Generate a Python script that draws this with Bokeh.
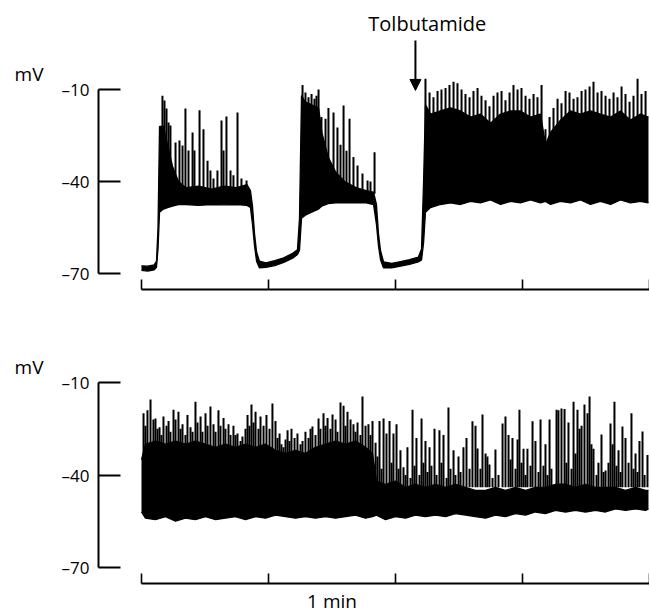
from bokeh.plotting import figure
from bokeh.layouts import column
from bokeh.models import (Range1d, LinearAxis, FixedTicker, Label, Arrow, NormalHead,
                          CustomLabelingPolicy)
from bokeh.embed import file_html
from bokeh.resources import INLINE

# ---------------- data (time in minutes, membrane potential in mV) ----------------
Y_TICKS = [-70, -40, -10]
Y_TICK_LABELS = {-70: "\u201370", -40: "\u201340", -10: "\u201310"}
X_TICKS = [0, 1, 2, 3, 4]
UNIT_Y = "mV"
UNIT_X = "1 min"
DRUG = "Tolbutamide"

# top trace: lower edge and dense-band upper edge of the recorded trace
TOP_T = [0.000, 0.050, 0.100, 0.118, 0.130, 0.142, 0.173, 0.205, 0.244, 0.291,
         0.350, 0.450, 0.550, 0.650, 0.750, 0.830, 0.858, 0.874, 0.890, 0.906,
         0.929, 0.980, 1.050, 1.120, 1.190, 1.228, 1.244, 1.260, 1.290, 1.340,
         1.394, 1.420, 1.470, 1.530, 1.600, 1.690, 1.770, 1.827, 1.850, 1.866,
         1.882, 1.906, 1.970, 2.040, 2.110, 2.180, 2.205, 2.221, 2.236, 2.276,
         2.354, 2.433, 2.512, 2.591, 2.669, 2.748, 2.827, 2.906, 2.984, 3.063,
         3.142, 3.181, 3.220, 3.299, 3.378, 3.457, 3.535, 3.614, 3.693, 3.772,
         3.850, 3.929, 3.992]
TOP_LOW = [-69.0, -69.2, -68.8, -68.0, -62.0, -50.0, -49.0, -48.5, -48.0, -47.5,
           -47.5, -47.8, -47.5, -47.6, -47.5, -47.8, -48.5, -54.0, -61.0, -66.0,
           -68.2, -68.0, -67.4, -66.4, -65.0, -63.8, -62.5, -52.0, -51.0, -50.0,
           -49.0, -48.0, -47.2, -47.0, -47.0, -47.0, -47.0, -47.5, -54.0, -61.0,
           -65.5, -68.2, -68.2, -67.6, -67.0, -66.2, -65.6, -60.0, -50.0, -48.5,
           -47.5, -47.0, -47.5, -46.5, -47.0, -46.0, -47.5, -46.5, -47.0, -46.0,
           -47.0, -46.5, -47.5, -46.5, -47.0, -46.0, -47.5, -46.5, -47.5, -46.0,
           -47.0, -46.5, -47.0]
TOP_HIGH = [-67.5, -67.6, -67.2, -66.0, -55.0, -22.0, -22.0, -28.0, -35.0, -40.0,
            -42.0, -41.5, -42.5, -41.5, -42.0, -41.0, -43.0, -48.0, -57.0, -63.0,
            -66.0, -66.5, -65.8, -64.9, -63.4, -62.3, -52.0, -12.0, -14.0, -15.0,
            -16.0, -24.0, -32.0, -37.0, -40.0, -42.0, -43.0, -43.5, -47.5, -57.0,
            -62.5, -66.2, -66.7, -66.1, -65.5, -64.7, -62.0, -40.0, -15.0, -18.0,
            -17.0, -16.0, -17.0, -19.0, -18.0, -21.0, -18.0, -17.0, -17.0, -19.0,
            -18.0, -28.0, -24.0, -20.0, -17.0, -18.0, -17.0, -18.0, -19.0, -17.0,
            -20.0, -18.0, -19.0]

# top trace: spike peaks
BURST1_T = [0.165, 0.181, 0.197, 0.213, 0.228, 0.268, 0.299, 0.323, 0.346, 0.370,
            0.402, 0.417, 0.457, 0.488, 0.520, 0.543, 0.567, 0.598, 0.630, 0.646,
            0.669, 0.701, 0.724, 0.756, 0.787, 0.827]
BURST1_V = [-12.0, -13.6, -16.2, -20.8, -21.7, -27.3, -26.6, -28.3, -16.2, -29.9,
            -24.0, -29.9, -16.8, -23.0, -33.2, -36.4, -39.0, -36.4, -20.1, -29.9,
            -18.8, -36.4, -38.0, -17.5, -39.0, -39.7]
BURST2_T = [1.268, 1.291, 1.315, 1.339, 1.362, 1.378, 1.394, 1.417, 1.449, 1.472,
            1.512, 1.543, 1.567, 1.591, 1.614, 1.638, 1.669, 1.701, 1.740, 1.780,
            1.803, 1.835]
BURST2_V = [-8.5, -11.0, -12.5, -11.5, -13.0, -12.0, -10.0, -19.0, -19.5, -16.0,
            -17.5, -22.4, -28.0, -15.2, -30.0, -19.5, -32.0, -34.8, -37.4, -39.7,
            -40.0, -30.5]
TOLB_T = [2.236, 2.268, 2.299, 2.331, 2.362, 2.394, 2.425, 2.457, 2.488, 2.520,
          2.551, 2.583, 2.614, 2.646, 2.677, 2.709, 2.740, 2.772, 2.803, 2.835,
          2.866, 2.898, 2.929, 2.961, 2.992, 3.024, 3.055, 3.087, 3.118, 3.150,
          3.181, 3.213, 3.244, 3.276, 3.307, 3.339, 3.370, 3.402, 3.433, 3.465,
          3.496, 3.528, 3.559, 3.591, 3.622, 3.654, 3.685, 3.717, 3.748, 3.780,
          3.811, 3.843, 3.874, 3.906, 3.937, 3.969]
TOLB_V = [-6.5, -11.0, -12.5, -10.5, -10.0, -9.5, -8.5, -7.5, -8.0, -10.0,
          -11.5, -12.5, -10.5, -9.5, -12.0, -13.5, -15.5, -12.0, -11.0, -10.5,
          -13.5, -11.0, -8.5, -10.0, -9.5, -12.0, -13.0, -11.5, -12.5, -8.5,
          -23.0, -19.0, -16.0, -13.0, -14.5, -10.5, -11.0, -13.0, -12.5, -10.5,
          -10.0, -9.0, -7.5, -11.0, -10.5, -12.0, -13.0, -11.0, -12.5, -9.0,
          -11.5, -14.0, -12.0, -6.5, -11.5, -10.5]

# bottom trace: lower edge and dense-band upper edge
BOT_T = [0.000, 0.031, 0.110, 0.189, 0.268, 0.346, 0.425, 0.504, 0.583, 0.661,
         0.740, 0.819, 0.898, 0.976, 1.055, 1.134, 1.213, 1.291, 1.370, 1.449,
         1.528, 1.606, 1.685, 1.764, 1.819, 1.850, 1.921, 2.000, 2.079, 2.157,
         2.236, 2.315, 2.394, 2.472, 2.551, 2.630, 2.709, 2.787, 2.866, 2.945,
         3.024, 3.102, 3.181, 3.260, 3.339, 3.417, 3.496, 3.575, 3.654, 3.732,
         3.811, 3.890, 3.969, 3.992]
BOT_LOW = [-52.0, -54.0, -54.5, -53.5, -55.0, -54.0, -54.5, -53.5, -54.5, -54.0,
           -53.5, -54.5, -53.5, -54.0, -53.0, -53.5, -54.0, -53.5, -54.0, -53.5,
           -54.0, -53.5, -53.0, -54.0, -53.5, -53.0, -54.5, -53.5, -54.0, -53.0,
           -53.5, -53.0, -53.5, -52.5, -53.0, -53.5, -54.0, -53.0, -53.5, -52.5,
           -53.0, -52.0, -52.5, -51.5, -52.0, -51.5, -52.0, -51.5, -52.0, -51.0,
           -51.5, -51.0, -51.5, -51.0]
BOT_HIGH = [-35.0, -30.0, -29.0, -30.0, -29.0, -30.0, -29.0, -30.0, -31.0, -30.0,
            -31.0, -30.0, -31.0, -30.0, -32.0, -33.0, -32.0, -33.0, -31.0, -30.0,
            -29.0, -30.0, -29.0, -31.0, -33.0, -42.0, -43.0, -42.0, -44.0, -43.0,
            -44.0, -43.0, -44.0, -43.0, -44.0, -45.0, -45.0, -44.0, -45.0, -44.0,
            -45.0, -44.0, -44.0, -43.0, -43.0, -44.0, -43.0, -44.0, -44.0, -44.0,
            -45.0, -44.0, -45.0, -45.0]

# bottom trace: spike peaks
BOT1_T = [0.016, 0.031, 0.047, 0.071, 0.094, 0.110, 0.126, 0.142, 0.157, 0.173,
          0.197, 0.213, 0.228, 0.252, 0.268, 0.291, 0.307, 0.323, 0.346, 0.362,
          0.386, 0.402, 0.425, 0.441, 0.465, 0.480, 0.504, 0.520, 0.543, 0.567,
          0.583, 0.606, 0.622, 0.646, 0.661, 0.685, 0.701, 0.724, 0.740, 0.756,
          0.780, 0.795, 0.819, 0.835, 0.850, 0.866, 0.882, 0.898, 0.921, 0.937,
          0.961, 0.984, 1.008, 1.031, 1.055, 1.071, 1.087, 1.102, 1.118, 1.134,
          1.150, 1.165, 1.181, 1.205, 1.228, 1.252, 1.268, 1.291, 1.315, 1.331,
          1.346, 1.370, 1.394, 1.409, 1.433, 1.449, 1.465, 1.488, 1.504, 1.528,
          1.543, 1.567, 1.591, 1.606, 1.622, 1.646, 1.669, 1.685, 1.701, 1.724,
          1.740, 1.764, 1.787, 1.803, 1.819]
BOT1_V = [-20.0, -24.0, -19.0, -15.5, -22.0, -21.7, -25.0, -24.5, -27.0, -21.0,
          -24.0, -22.5, -26.0, -18.8, -22.0, -19.5, -25.0, -23.5, -27.0, -20.5,
          -24.5, -26.0, -16.2, -23.0, -21.0, -26.0, -20.0, -24.0, -17.8, -23.5,
          -26.0, -19.0, -24.0, -21.5, -25.0, -23.5, -27.0, -24.0, -27.0, -26.5,
          -29.0, -27.5, -25.0, -20.5, -24.0, -17.1, -23.0, -19.5, -25.0, -21.0,
          -24.0, -20.5, -25.0, -16.8, -22.5, -28.0, -26.5, -30.0, -31.0, -28.5,
          -25.5, -29.0, -25.0, -28.0, -26.5, -30.0, -29.0, -26.0, -28.0, -25.0,
          -24.3, -27.0, -21.7, -25.0, -20.0, -24.0, -21.5, -25.0, -20.4, -22.0,
          -26.0, -16.5, -17.5, -24.0, -19.5, -22.0, -23.5, -26.0, -23.0, -27.0,
          -14.5, -24.0, -23.5, -27.0, -22.5]
BOT2_T = [1.843, 1.858, 1.874, 1.890, 1.906, 1.929, 1.953, 1.969, 1.984, 2.008,
          2.024, 2.039, 2.063, 2.079, 2.094, 2.118, 2.134, 2.150, 2.165, 2.189,
          2.205, 2.220, 2.236, 2.252, 2.268, 2.283, 2.307, 2.323, 2.346, 2.362,
          2.378, 2.402, 2.417, 2.433, 2.457, 2.472, 2.496, 2.512, 2.535, 2.559,
          2.583, 2.606, 2.630, 2.646, 2.669, 2.685, 2.709, 2.724, 2.740, 2.764,
          2.787, 2.811, 2.843, 2.866, 2.890, 2.906, 2.921, 2.945, 2.961, 2.976,
          2.992, 3.008, 3.024, 3.039, 3.063, 3.079, 3.102, 3.126, 3.142, 3.165,
          3.181, 3.197, 3.213, 3.228, 3.268, 3.283, 3.307, 3.331, 3.346, 3.362,
          3.386, 3.402, 3.417, 3.433, 3.449, 3.465, 3.488, 3.512, 3.528, 3.543,
          3.559, 3.583, 3.598, 3.622, 3.638, 3.654, 3.677, 3.693, 3.709, 3.724,
          3.740, 3.756, 3.772, 3.787, 3.811, 3.835, 3.858, 3.874, 3.890, 3.906,
          3.921, 3.945, 3.961, 3.984]
BOT2_V = [-29.5, -34.0, -22.5, -38.0, -21.7, -26.5, -22.5, -36.0, -26.5, -23.5,
          -38.0, -32.0, -37.5, -40.0, -31.0, -41.0, -18.8, -37.0, -28.0, -40.0,
          -21.7, -36.0, -29.0, -39.0, -31.0, -37.0, -25.0, -40.0, -25.5, -36.0,
          -27.0, -41.0, -18.1, -38.0, -32.0, -40.0, -34.0, -39.0, -31.0, -28.0,
          -38.0, -22.6, -24.0, -31.4, -38.0, -20.4, -33.0, -34.0, -36.6, -41.0,
          -31.7, -40.0, -23.3, -21.0, -27.0, -35.0, -28.0, -38.0, -28.5, -18.8,
          -36.0, -31.5, -40.0, -31.5, -37.0, -22.6, -29.0, -39.0, -22.0, -37.0,
          -30.0, -40.0, -22.0, -38.0, -18.8, -19.0, -18.4, -18.6, -36.0, -23.0,
          -38.0, -16.2, -33.0, -18.8, -25.0, -24.0, -17.1, -20.0, -14.5, -30.0,
          -31.5, -40.0, -36.0, -26.9, -39.0, -38.5, -36.0, -23.3, -30.0, -16.2,
          -37.0, -32.0, -39.0, -24.3, -28.0, -36.0, -20.0, -38.0, -33.0, -39.0,
          -29.0, -25.9, -40.0, -33.5]

# annotation anchors (data coordinates)
DRUG_T = 2.157
DRUG_LABEL_T = 2.25

assert len(TOP_T) == len(TOP_LOW) == len(TOP_HIGH)
assert len(BOT_T) == len(BOT_LOW) == len(BOT_HIGH)
assert len(BURST1_T) == len(BURST1_V) and len(BURST2_T) == len(BURST2_V)
assert len(TOLB_T) == len(TOLB_V) and len(BOT1_T) == len(BOT1_V) and len(BOT2_T) == len(BOT2_V)

# ---------------- styling ----------------
FONT = "Open Sans"
X_RANGE = (-0.3386, 4.0)
SPIKE_BASE = -44.0
FRAME_W = 551


def make_panel(y_range, frame_h, border_top, border_bottom, t, low, high, spk_t, spk_v, unit_x=False):
    p = figure(frame_width=FRAME_W, frame_height=frame_h,
               x_range=Range1d(*X_RANGE), y_range=Range1d(*y_range),
               x_axis_type=None, y_axis_type=None,
               output_backend="svg", toolbar_location=None,
               min_border_left=98, min_border_right=0,
               min_border_top=border_top, min_border_bottom=border_bottom)
    p.outline_line_color = None
    p.background_fill_color = "white"
    p.border_fill_color = "white"

    # trace
    p.varea(x=t, y1=low, y2=high, fill_color="black")
    p.line(t, low, line_color="black", line_width=1.3)
    p.line(t, high, line_color="black", line_width=1.3)
    p.segment(x0=spk_t, y0=[SPIKE_BASE] * len(spk_t), x1=spk_t, y1=spk_v,
              line_color="black", line_width=2.0)

    # y axis (scale bar style)
    yax = LinearAxis(ticker=FixedTicker(ticks=Y_TICKS), bounds=(-70, -10),
                     major_label_overrides=Y_TICK_LABELS,
                     major_tick_in=22, major_tick_out=0,
                     minor_tick_in=0, minor_tick_out=0,
                     axis_line_width=2, major_tick_line_width=2,
                     major_label_standoff=9,
                     major_label_text_font=FONT, major_label_text_font_size="17px",
                     major_label_text_color="black")
    p.add_layout(yax, "left")
    uax = LinearAxis(ticker=FixedTicker(ticks=[-5]), major_label_overrides={-5: UNIT_Y},
                     axis_line_color=None, major_tick_line_color=None, minor_tick_line_color=None,
                     major_tick_in=0, major_tick_out=0, major_label_standoff=15,
                     major_label_text_font=FONT, major_label_text_font_size="19px",
                     major_label_text_color="black")
    p.add_layout(uax, "left")

    # x axis (time bar, ticks only)
    xax = LinearAxis(ticker=FixedTicker(ticks=X_TICKS), bounds=(0, 4),
                     major_tick_in=10, major_tick_out=0,
                     minor_tick_in=0, minor_tick_out=0,
                     axis_line_width=2, major_tick_line_width=1.6,
                     major_label_policy=CustomLabelingPolicy(code="return []"),
                     major_label_text_font_size="1px", major_label_standoff=0)
    p.add_layout(xax, "below")
    if unit_x:
        lax = LinearAxis(ticker=FixedTicker(ticks=[1.5]), major_label_overrides={1.5: UNIT_X},
                         axis_line_color=None, major_tick_line_color=None, minor_tick_line_color=None,
                         major_tick_in=0, major_tick_out=0, major_label_standoff=0,
                         major_label_text_font=FONT, major_label_text_font_size="19px",
                         major_label_text_color="black")
        p.add_layout(lax, "below")
    return p


top = make_panel((-75.22, 15.11), 277, 12, 4, TOP_T, TOP_LOW, TOP_HIGH,
                 BURST1_T + BURST2_T + TOLB_T, BURST1_V + BURST2_V + TOLB_V)
top.add_layout(Label(x=DRUG_LABEL_T, y=11.5, text=DRUG, text_align="center",
                     text_baseline="middle", text_font=FONT, text_font_size="20px",
                     text_color="black"))
top.add_layout(Arrow(end=NormalHead(size=11, fill_color="black", line_color="black"),
                     x_start=DRUG_T, y_start=6.0, x_end=DRUG_T, y_end=-10.3,
                     line_color="black", line_width=2))

bottom = make_panel((-75.19, 9.14), 260, 30, 2, BOT_T, BOT_LOW, BOT_HIGH,
                    BOT1_T + BOT2_T, BOT1_V + BOT2_V, unit_x=True)

layout = column(top, bottom, spacing=0)
open("out.html", "w").write(file_html(layout, INLINE))
